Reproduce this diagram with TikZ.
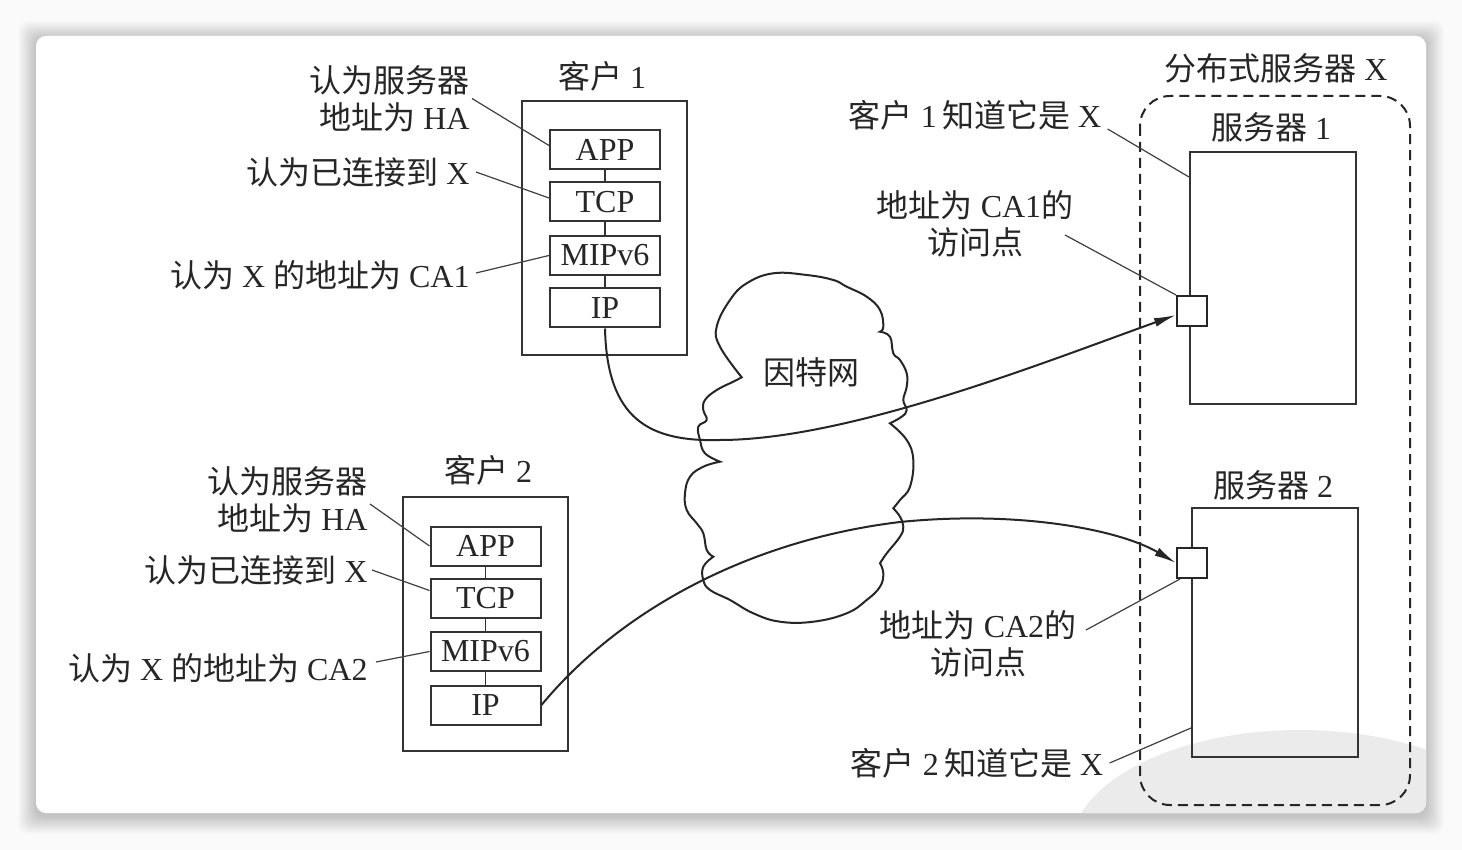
\documentclass[tikz,border=0pt]{standalone}
\usepackage{fontspec}
\setmainfont{Liberation Serif}
\newfontfamily\cjk{Noto Sans CJK SC}
\newcommand\zh[1]{{\cjk #1}}
\usetikzlibrary{arrows.meta}
\begin{document}
\begin{tikzpicture}[x=0.5pt,y=-0.5pt,
  every node/.style={font=\fontsize{16}{18.5}\selectfont, inner sep=0pt, text=black!85},
  outerbox/.style={draw=black!80, line width=0.9pt},
  layer/.style={draw=black!80, line width=1pt, minimum width=55pt, minimum height=19.5pt, fill=white},
  lead/.style={draw=black!75, line width=0.6pt},
  conn/.style={draw=black!85, line width=1pt, -{Latex[length=11pt,width=4.5pt]}},
  stackline/.style={draw=black!80, line width=0.9pt},
  apbox/.style={draw=black!85, line width=1pt, fill=white, minimum size=15pt},
  srvbox/.style={draw=black!80, line width=1pt, minimum width=83pt},
  groupbox/.style={draw=black!85, line width=1pt, dash pattern=on 5pt off 3pt, rounded corners=15pt}]

% background and card
\fill[black!2] (0,0) rectangle (1462,850);
\useasboundingbox (0,0) rectangle (1462,850);
\foreach \i in {1,...,18}
  \fill[black, opacity=0.012, rounded corners=5pt] (36-\i,36-\i+3) rectangle (1426+\i,813+\i+3);
\fill[white, rounded corners=5pt] (36,36) rectangle (1426,813);
\begin{scope}
  \clip[rounded corners=5pt] (36,36) rectangle (1426,813);
  \fill[black!8] (1300,850) ellipse [x radius=230, y radius=120];
\end{scope}

% ---------- client 1 ----------
\node (t1) at (602,76) {\zh{客户} 1};
\node[outerbox, minimum width=82.5pt, minimum height=127pt] (c1) at (604.5,228) {};
\node[layer] (app1) at (605,149.5) {APP};
\node[layer] (tcp1) at (605,202) {TCP};
\node[layer] (mip1) at (605,255.5) {MIPv6};
\node[layer] (ip1) at (605,308) {IP};
\draw[stackline] (app1.south) -- (tcp1.north);
\draw[stackline] (tcp1.south) -- (mip1.north);
\draw[stackline] (mip1.south) -- (ip1.north);

\node[anchor=east, align=right] (l11) at (470,98.5) {\zh{认为服务器}\\\zh{地址为} HA};
\node[anchor=east] (l12) at (470,172) {\zh{认为已连接到} X};
\node[anchor=east] (l13) at (470,275) {\zh{认为} X \zh{的地址为} CA1};
\draw[lead] ([xshift=1pt]l11.east) -- ([yshift=2pt]app1.west);
\draw[lead] ([xshift=3pt]l12.east) -- ([yshift=2pt]tcp1.west);
\draw[lead] ([xshift=3pt,yshift=1pt]l13.east) -- (mip1.west);

% ---------- client 2 ----------
\node (t2) at (488,470) {\zh{客户} 2};
\node[outerbox, minimum width=82.5pt, minimum height=127pt] (c2) at (485.5,624) {};
\node[layer] (app2) at (485.5,546) {APP};
\node[layer] (tcp2) at (485.5,598.5) {TCP};
\node[layer] (mip2) at (485.5,651.5) {MIPv6};
\node[layer] (ip2) at (485.5,705) {IP};
\draw[stackline] (app2.south) -- (tcp2.north);
\draw[stackline] (tcp2.south) -- (mip2.north);
\draw[stackline] (mip2.south) -- (ip2.north);

\node[anchor=east, align=right] (l21) at (368,500) {\zh{认为服务器}\\\zh{地址为} HA};
\node[anchor=east] (l22) at (368,570) {\zh{认为已连接到} X};
\node[anchor=east] (l23) at (368,668) {\zh{认为} X \zh{的地址为} CA2};
\draw[lead] ([xshift=1pt,yshift=-2pt]l21.east) -- (app2.west);
\draw[lead] ([xshift=2pt]l22.east) -- ([yshift=4pt]tcp2.west);
\draw[lead] ([xshift=4pt,yshift=3pt]l23.east) -- (mip2.west);

% ---------- Internet cloud ----------
\draw[line width=1pt, black!85]
  plot[smooth, tension=0.7] coordinates {(741.7,377.3) (720,346.7) (716.7,326.7) (730,300) (746.7,283.3) (773.3,273.3) (806.7,275) (833.3,280) (846.7,286.7) (866.7,296.7) (880,310) (883.3,326.7) (880,331.7)}
  -- plot[smooth, tension=0.7] coordinates {(880,331.7) (890,336.7) (893.3,353.3) (900,360) (906.7,373.3) (906.7,386.7) (903.3,400) (906.7,410) (901.7,416.7) (890,423.3)}
  -- plot[smooth, tension=0.7] coordinates {(890,423.3) (906.7,440) (913.3,460) (910,486.7) (900,500) (893.3,508.3)}
  -- plot[smooth, tension=0.7] coordinates {(893.3,508.3) (900,516.7) (903.3,526.7) (900,536.7) (886.7,553.3) (880,563.3)}
  -- plot[smooth, tension=0.7] coordinates {(880,563.3) (883.3,573.3) (880,586.7) (866.7,600) (846.7,613.3) (813.3,621.7) (780,621.7) (753.3,613.3) (730,600) (710,590) (703.3,580) (703.3,566.7) (713.3,556.7)}
  -- plot[smooth, tension=0.7] coordinates {(713.3,556.7) (706.7,550) (703.3,533.3) (696.7,523.3) (686.7,510) (685,493.3) (690,476.7) (703.3,466.7) (720,461.7)}
  -- plot[smooth, tension=0.7] coordinates {(720,461.7) (705,453.3) (700,440) (698.3,426.7) (706.7,420) (703.3,410) (705,400) (716.7,390) (733.3,381.7) (741.7,377.3)}
  -- cycle;
\node (net) at (811,372) {\zh{因特网}};

% ---------- distributed server X ----------
\node (tx) at (1276,68) {\zh{分布式服务器} X};
\draw[groupbox] (1140,96) rectangle (1410,805);

\node (ts1) at (1271,127) {\zh{服务器} 1};
\node[srvbox, minimum height=126pt] (s1) at (1273,278) {};
\node[apbox] (ap1) at (1192,311) {};

\node (ts2) at (1273,485) {\zh{服务器} 2};
\node[srvbox, minimum height=124.5pt] (s2) at (1275,632.5) {};
\node[apbox] (ap2) at (1192,563) {};

\node (k1) at (975,115) {\zh{客户} 1\,\zh{知道它是} X};
\draw[lead] ([xshift=3pt,yshift=-7pt]k1.east) -- ([yshift=-13pt]s1.north west);

\node[align=center] (a1) at (975,223.5) {\zh{地址为} CA1\zh{的}\\\zh{访问点}};
\coordinate (a1c) at (1065,235);
\draw[lead] (a1c) -- (ap1.north west);

\node[align=center] (a2) at (978,643.5) {\zh{地址为} CA2\zh{的}\\\zh{访问点}};
\coordinate (a2c) at (1086,630);
\draw[lead] (a2c) -- ([xshift=2pt]ap2.south west);

\node (k2) at (977,763) {\zh{客户} 2\,\zh{知道它是} X};
\draw[lead] ([xshift=3pt]k2.east) -- ([yshift=15pt]s2.south west);

% ---------- connections ----------
\draw[conn] (ip1.south) .. controls (607,420) and (650,442) .. (720,440)
  .. controls (850,440) and (1050,360) .. ([yshift=-2pt]ap1.west);
\draw[conn] (ip2.east) .. controls (620,610) and (750,540) .. (900,522)
  .. controls (1020,510) and (1120,530) .. (ap2.west);
\end{tikzpicture}
\end{document}
